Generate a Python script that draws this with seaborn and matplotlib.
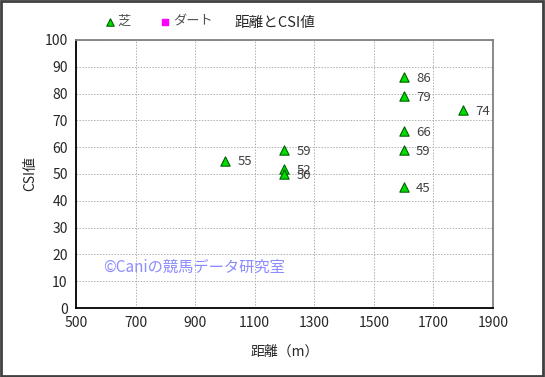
import pandas as pd
import numpy as np
import matplotlib.pyplot as plt
import seaborn as sns

sns.set_style("white")
plt.rcParams['font.family'] = ['Noto Sans CJK JP', 'DejaVu Sans']

# data
distance = [1000, 1200, 1200, 1200, 1600, 1600, 1600, 1600, 1600, 1800]
csi = [55, 59, 52, 50, 86, 79, 66, 59, 45, 74]
labels = ["55", "59", "52", "50", "86", "79", "66", "59", "45", "74"]
x_ticks = [500, 700, 900, 1100, 1300, 1500, 1700, 1900]
y_ticks = [0, 10, 20, 30, 40, 50, 60, 70, 80, 90, 100]

df = pd.DataFrame({"距離": distance, "CSI値": csi, "label": labels})

fig = plt.figure(figsize=(5.45, 3.77), dpi=100)
ax = fig.add_axes([0.1394, 0.183, 0.7652, 0.711])

sns.scatterplot(data=df, x="距離", y="CSI値", ax=ax, marker="^", s=45,
                color="#00dd00", edgecolor="#006000", linewidth=0.8, zorder=3, label="芝")
ax.scatter([], [], marker="s", s=30, color="#ff00ff", label="ダート")

for xv, yv, t in zip(df["距離"], df["CSI値"], df["label"]):
    ax.annotate(t, (xv, yv), xytext=(9, -1), textcoords="offset points",
                fontsize=9.5, color="#404040", va="center", ha="left")

ax.set_xlim(500, 1900)
ax.set_ylim(0, 100)
ax.set_xticks(x_ticks)
ax.set_yticks(y_ticks)
ax.tick_params(axis="both", labelsize=10, length=0, pad=6)
ax.grid(True, color="#b0b0b0", linestyle=(0, (1.5, 1.5)), linewidth=0.7)
ax.set_axisbelow(True)

for s in ["left", "bottom"]:
    ax.spines[s].set_color("black")
    ax.spines[s].set_linewidth(1.3)
for s in ["top", "right"]:
    ax.spines[s].set_color("#808080")
    ax.spines[s].set_linewidth(1.3)

ax.set_xlabel("距離（m）", fontsize=10, labelpad=10)
ax.set_ylabel("CSI値", fontsize=10, labelpad=5)

ax.text(590, 15, "©Caniの競馬データ研究室", fontsize=11, color="#8c8cff", va="center")

fig.text(0.505, 0.94, "距離とCSI値", fontsize=10.5, ha="center", va="center")
ax.legend(loc="lower left", bbox_to_anchor=(0.04, 1.0), ncol=2, frameon=False,
          fontsize=9.5, handlelength=0.8, handletextpad=0.2, columnspacing=2.2,
          markerscale=0.8, labelcolor="#505050")

fig.patches.append(plt.Rectangle((0.002, 0.003), 0.995, 0.994, transform=fig.transFigure,
                                 fill=False, edgecolor="#404040", linewidth=2))

fig.savefig("out.png", dpi=100)
